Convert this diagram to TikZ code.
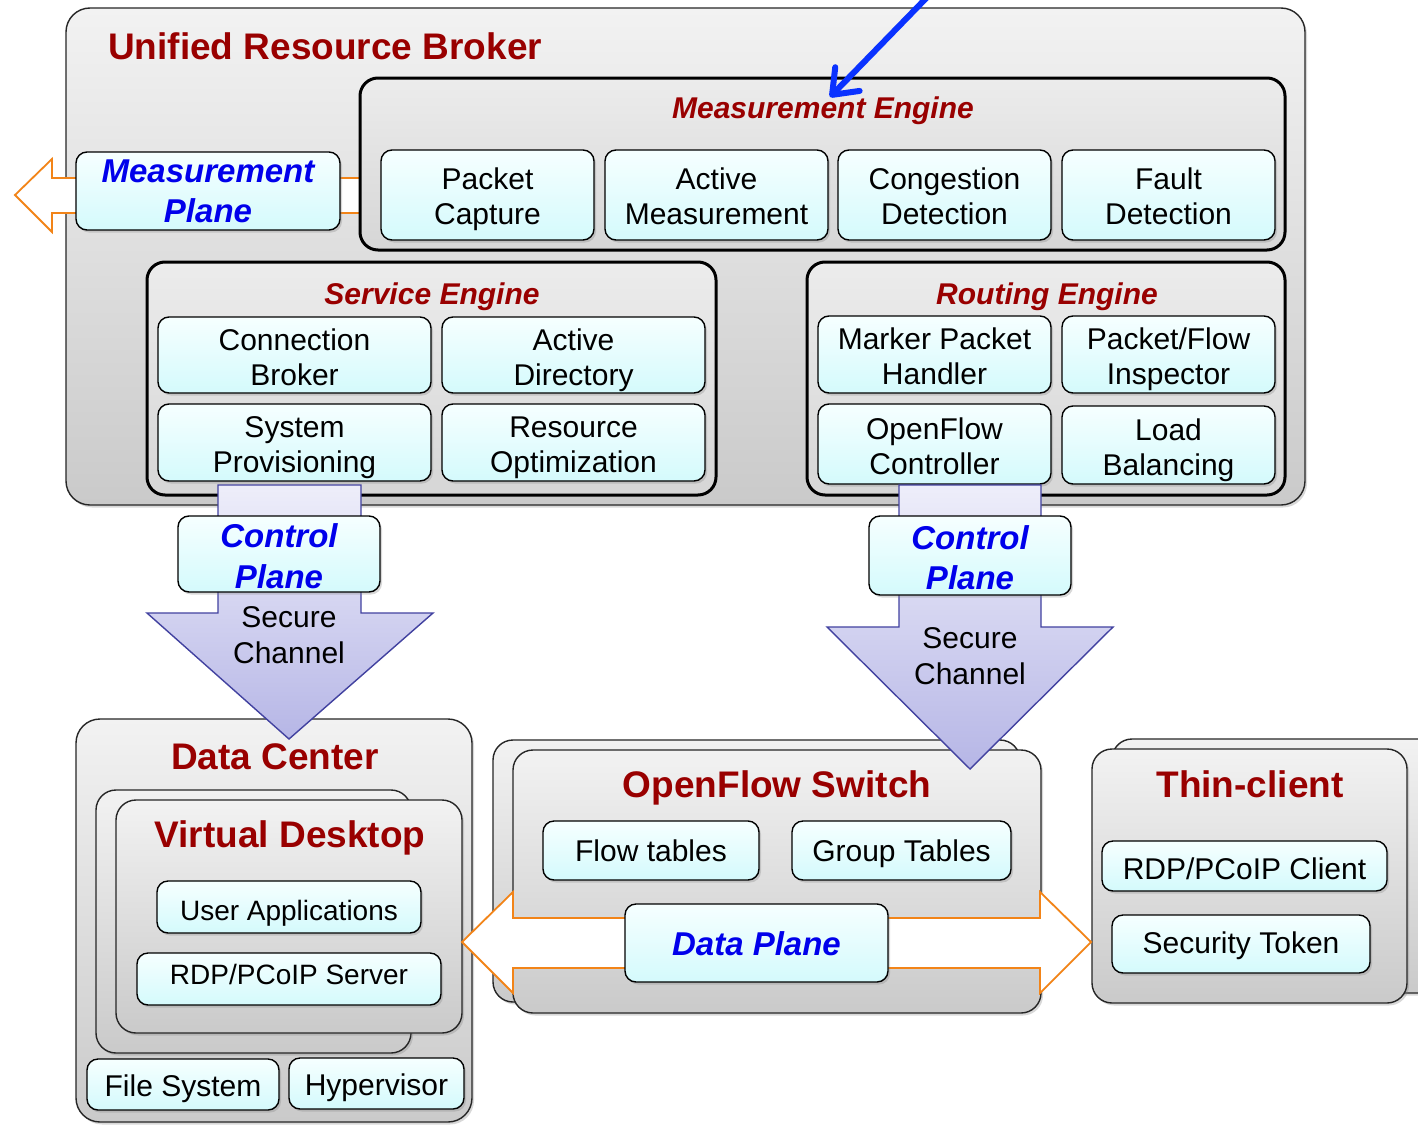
\documentclass[tikz,border=0pt]{standalone}
\usepackage{fontspec}
\setmainfont{Liberation Sans}
\usetikzlibrary{shadows,arrows.meta}

\definecolor{dred}{RGB}{153,0,0}
\definecolor{pblue}{RGB}{0,0,235}
\definecolor{arrowblue}{RGB}{10,50,255}
\definecolor{cyantop}{RGB}{246,255,255}
\definecolor{cyanbot}{RGB}{212,250,252}
\definecolor{greytop}{RGB}{242,242,242}
\definecolor{greybot}{RGB}{202,202,202}
\definecolor{engtop}{RGB}{236,236,236}
\definecolor{engbot}{RGB}{214,214,214}
\definecolor{planeorange}{RGB}{242,132,24}
\definecolor{lavtop}{RGB}{238,238,250}
\definecolor{lavbot}{RGB}{182,182,230}
\definecolor{lavline}{RGB}{66,66,160}

\tikzset{
  softshadow/.style={drop shadow={opacity=0.3,shadow xshift=2pt,shadow yshift=-2.5pt}},
  outerbox/.style={draw=black!85,line width=1.4pt,rounded corners=24pt,
    top color=greytop,bottom color=greybot,softshadow},
  stackbox/.style={draw=black!85,line width=1.4pt,rounded corners=20pt,
    top color=greytop,bottom color=greybot,softshadow},
  enginebox/.style={draw=black,line width=3pt,rounded corners=18pt,
    top color=engtop,bottom color=engbot},
  cellbox/.style={draw=black,line width=1.4pt,rounded corners=11pt,
    top color=cyantop,bottom color=cyanbot,softshadow},
  celltext/.style={align=center,inner sep=0pt,text depth=0pt,
    font=\fontsize{30}{35}\selectfont},
  smalltext/.style={celltext,font=\fontsize{28}{33}\selectfont},
  planetext/.style={celltext,text=pblue,font=\fontsize{33}{40.5}\selectfont\bfseries\itshape},
  bigtitle/.style={text=dred,font=\fontsize{37}{42}\selectfont\bfseries,inner sep=0pt,text depth=0pt},
  enginetitle/.style={text=dred,font=\fontsize{30}{35}\selectfont\bfseries\itshape,inner sep=0pt,text depth=0pt},
  plainlabel/.style={celltext,font=\fontsize{30}{36}\selectfont},
  orangearrow/.style={fill=white,draw=planeorange,line width=1.8pt,line join=miter},
  channelarrow/.style={top color=lavtop,bottom color=lavbot,draw=lavline,line width=1.4pt},
  pointer/.style={draw=arrowblue,line width=6pt,line cap=round,line join=round,
    -{Straight Barb[length=22pt,width=34pt,round]}}
}

% frame node from its corners: style, name, x1, y1, x2, y2
\newcommand\framenode[6]{%
  \node[#1,minimum width={#5-#3},minimum height={#6-#4},inner sep=0pt] (#2)
    at ({(#3+#5)/2},{(#4+#6)/2}) {};}
% box with centred text: [text drop], box style, text style, name, x1, y1, x2, y2, text
\newcommand\boxnode[9][1.5]{%
  \framenode{#2}{#4}{#5}{#6}{#7}{#8}%
  \node[#3] (#4-t) at ([yshift={-(#1)*1pt}]#4.center) {#9};}

\begin{document}
\begin{tikzpicture}[x=1pt,y=-1pt]
\clip (0,0) rectangle (1418,1124);
\fill[white] (0,0) rectangle (1418,1124);

% ---------------- Unified Resource Broker ----------------
\framenode{outerbox}{urb}{66}{8}{1305}{505}
\node[bigtitle,anchor=west] (urbtitle) at (108,46) {Unified Resource Broker};

% measurement plane arrow, pointing out to the left
\path[orangearrow] (15,195) -- (52,159) -- (52,178) -- (360,178) -- (360,213)
  -- (52,213) -- (52,232) -- cycle;

% Measurement engine
\framenode{enginebox}{meng}{360}{78}{1285}{250}
\node[enginetitle] (mengtitle) at (823,107.5) {Measurement Engine};
\boxnode{cellbox}{celltext}{pc}{381}{150}{594}{240}{Packet\\Capture}
\boxnode{cellbox}{celltext}{am}{605}{150}{828}{240}{Active\\Measurement}
\boxnode{cellbox}{celltext}{cd}{838}{150}{1051}{240}{Congestion\\Detection}
\boxnode{cellbox}{celltext}{fd}{1062}{150}{1275}{240}{Fault\\Detection}

\boxnode[0]{cellbox}{planetext}{mp}{76}{152}{340}{230}{Measurement\\Plane}

% Service engine
\framenode{enginebox}{seng}{147}{262}{716}{495}
\node[enginetitle] (sengtitle) at (432,293.5) {Service Engine};
\boxnode[2]{cellbox}{celltext}{cb}{158}{317}{431}{393}{Connection\\Broker}
\boxnode[2]{cellbox}{celltext}{ad}{442}{317}{705}{393}{Active\\Directory}
\boxnode[2]{cellbox}{celltext}{sp}{158}{404}{431}{481}{System\\Provisioning}
\boxnode[2]{cellbox}{celltext}{ro}{442}{404}{705}{481}{Resource\\Optimization}

% Routing engine
\framenode{enginebox}{reng}{807}{262}{1285}{495}
\node[enginetitle] (rengtitle) at (1047,293.5) {Routing Engine};
\boxnode[2]{cellbox}{celltext}{mph}{818}{316}{1051}{393}{Marker Packet\\Handler}
\boxnode[2]{cellbox}{celltext}{pfi}{1062}{316}{1275}{393}{Packet/Flow\\Inspector}
\boxnode[2]{cellbox}{celltext}{ofc}{818}{404}{1051}{484}{OpenFlow\\Controller}
\boxnode[2]{cellbox}{celltext}{lb}{1062}{406}{1275}{484}{Load\\Balancing}

% ---------------- Data Center ----------------
\framenode{outerbox}{dc}{76}{719}{472}{1122}
\node[bigtitle] (dctitle) at (275,756.5) {Data Center};
\framenode{stackbox}{vdback}{96}{790}{411}{1053}
\framenode{stackbox}{vd}{116}{800}{462}{1033}
\node[bigtitle] (vdtitle) at (290,834.5) {Virtual Desktop};
\boxnode[3]{cellbox}{smalltext}{ua}{157}{881}{421}{933}{User Applications}
\boxnode[-5]{cellbox}{smalltext}{rdps}{137}{953}{441}{1005}{RDP/PCoIP Server}
\boxnode[1]{cellbox}{celltext}{fs}{87}{1059}{279}{1110}{File System}
\boxnode[1]{cellbox}{celltext}{hv}{289}{1058}{464}{1109}{Hypervisor}

% ---------------- OpenFlow Switch ----------------
\framenode{stackbox}{ofsback}{493}{740}{1020}{1002}
\framenode{stackbox}{ofs}{513}{750}{1041}{1013}
\node[bigtitle] (ofstitle) at (777,784.5) {OpenFlow Switch};
\boxnode[0]{cellbox}{celltext}{ft}{543}{821}{759}{880}{Flow tables}
\boxnode[0]{cellbox}{celltext}{gt}{792}{821}{1011}{880}{Group Tables}

% ---------------- Thin-client ----------------
\framenode{stackbox}{tcback}{1112}{739}{1440}{993}
\framenode{stackbox}{tc}{1092}{749}{1407}{1003}
\node[bigtitle] (tctitle) at (1250,784.5) {Thin-client};
\boxnode[3]{cellbox}{celltext}{rdpc}{1102}{841}{1387}{891}{RDP/PCoIP Client}
\boxnode[-1]{cellbox}{celltext}{st}{1112}{915}{1370}{973}{Security Token}

% data plane: double arrow between desktop and thin-client
\path[orangearrow] (462,942) -- (513,892) -- (513,918) -- (1040,918) -- (1040,892)
  -- (1091,942) -- (1040,993) -- (1040,968) -- (513,968) -- (513,993) -- cycle;
\boxnode[1]{cellbox}{planetext}{dp}{625}{904}{888}{982}{Data Plane}

% ---------------- control plane channels ----------------
\path[channelarrow] (218,485) -- (361,485) -- (361,613) -- (433,613) -- (289,739)
  -- (147,613) -- (218,613) -- cycle;
\node[plainlabel] (scl) at (289,635.5) {Secure\\Channel};
\boxnode[2]{cellbox}{planetext}{cpl}{178}{516}{380}{592}{Control\\Plane}

\path[channelarrow] (899,485) -- (1041,485) -- (1041,627) -- (1113,627) -- (970,769)
  -- (827,627) -- (899,627) -- cycle;
\node[plainlabel] (scr) at (970,656) {Secure\\Channel};
\boxnode[2]{cellbox}{planetext}{cpr}{869}{516}{1071}{595}{Control\\Plane}

% pointer into the measurement engine
\coordinate (psrc) at (938,-14);
\coordinate (ptip) at (830,97);
\draw[pointer] (psrc) -- (ptip);
\end{tikzpicture}
\end{document}
